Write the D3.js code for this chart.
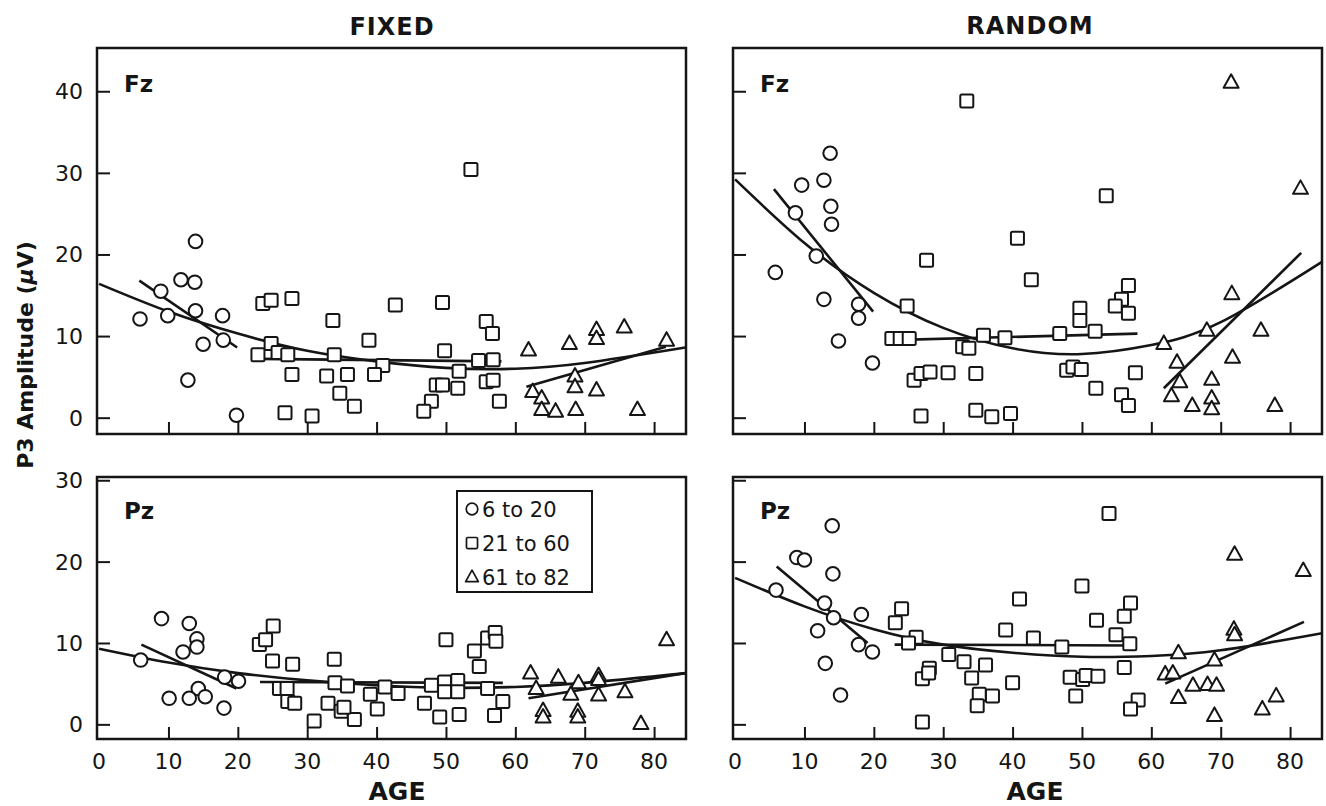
<!DOCTYPE html>
<html>
<head>
<meta charset="utf-8">
<script src="https://cdn.jsdelivr.net/npm/d3@7"></script>
<style>
  body { margin: 0; background: #fff; }
  text { font-family: "DejaVu Sans", sans-serif; fill: #151515; }
</style>
</head>
<body>
<svg id="chart" width="1326" height="806"></svg>
<script>
// ---- data: [age, P3 amplitude in µV] ----
const xTicks = [0, 10, 20, 30, 40, 50, 60, 70, 80];
const fzTicks = [0, 10, 20, 30, 40];
const pzTicks = [0, 10, 20, 30];
const groupLabels = ["6 to 20", "21 to 60", "61 to 82"];

// FIXED / Fz
const fixedFzYoung = [[13.9,21.6],[11.8,16.9],[13.8,16.6],[8.9,15.5],[5.9,12.1],[9.9,12.5],[13.9,13.1],[17.8,12.5],[15.0,9.0],[17.9,9.5],[12.8,4.6],[19.8,0.3]];
const fixedFzMid = [[23.6,14.0],[24.8,14.4],[27.8,14.6],[33.7,11.9],[38.9,9.5],[24.8,9.1],[22.9,7.7],[25.8,8.0],[27.2,7.7],[33.9,7.7],[40.9,6.4],[27.8,5.3],[32.8,5.1],[35.8,5.3],[39.7,5.3],[34.7,3.0],[36.8,1.4],[26.8,0.6],[30.7,0.2],[42.7,13.8],[53.6,30.4],[49.5,14.1],[55.8,11.8],[56.7,10.3],[49.8,8.2],[54.7,7.0],[56.8,7.1],[51.9,5.7],[55.8,4.4],[56.8,4.6],[48.6,4.0],[49.5,4.0],[51.7,3.6],[57.7,2.0],[47.9,2.0],[46.8,0.8]];
const fixedFzOld = [[61.9,8.3],[67.8,9.1],[71.7,10.8],[71.7,9.7],[75.7,11.1],[81.8,9.5],[62.5,3.2],[63.8,2.4],[63.8,1.0],[65.8,0.8],[68.6,5.1],[68.6,3.8],[71.7,3.4],[68.7,1.0],[77.6,1.0]];
const fixedFzCurve = [[0,16.4],[10,13.0],[20,10.3],[30,8.2],[40,6.9],[50,6.1],[60,6.0],[70,6.7],[84.5,8.6]];
const fixedFzYoungFit = [[5.8,16.8],[19.9,8.6]];
const fixedFzMidFit = [[23,7.2],[58,6.9]];
const fixedFzOldFit = [[61.6,3.8],[81.7,8.7]];

// RANDOM / Fz
const randomFzYoung = [[13.7,32.4],[9.6,28.5],[12.8,29.1],[13.8,25.9],[13.9,23.7],[8.7,25.1],[11.7,19.8],[5.8,17.8],[12.8,14.5],[17.8,13.9],[17.8,12.2],[14.9,9.4],[19.8,6.7]];
const randomFzMid = [[33.4,38.8],[27.6,19.3],[24.8,13.7],[22.6,9.7],[23.8,9.7],[25.1,9.7],[32.8,8.7],[33.7,8.5],[35.8,10.1],[38.9,9.8],[25.8,4.6],[26.8,5.4],[28.1,5.6],[30.7,5.5],[34.7,5.4],[26.8,0.2],[34.7,0.9],[37.0,0.1],[39.7,0.5],[40.7,22.0],[53.5,27.2],[42.7,16.9],[56.7,16.2],[55.7,14.5],[54.8,13.7],[56.7,12.8],[49.7,13.4],[49.7,11.9],[51.9,10.6],[46.8,10.3],[47.8,5.8],[48.7,6.2],[49.9,5.9],[57.7,5.5],[52.0,3.6],[55.7,2.8],[56.7,1.5]];
const randomFzOld = [[71.5,41.1],[81.5,28.1],[71.6,15.2],[75.8,10.7],[68.0,10.7],[61.8,9.1],[71.7,7.4],[63.7,6.8],[68.7,4.7],[64.1,4.4],[62.9,2.7],[65.9,1.5],[68.7,2.4],[68.7,1.1],[77.8,1.5]];
const randomFzCurve = [[0,29.2],[10,21.4],[20,15.3],[30,11.0],[40,8.5],[50,7.8],[60,8.9],[70,11.7],[84.6,19.1]];
const randomFzYoungFit = [[5.6,28.0],[19.9,13.0]];
const randomFzMidFit = [[22.5,9.5],[58,10.3]];
const randomFzOldFit = [[61.8,3.6],[81.6,20.2]];

// FIXED / Pz
const fixedPzYoung = [[9.0,13.0],[13.0,12.4],[14.1,10.5],[14.1,9.5],[12.1,8.9],[6.0,7.9],[18.1,5.8],[20.1,5.3],[14.3,4.4],[10.1,3.2],[13.0,3.2],[15.3,3.4],[18.0,2.0]];
const fixedPzMid = [[25.1,12.1],[23.1,9.8],[24.0,10.4],[25.0,7.8],[27.9,7.4],[33.9,8.0],[26.0,4.4],[27.1,4.4],[27.2,2.8],[28.2,2.6],[34.0,5.1],[35.8,4.7],[39.1,3.7],[41.2,4.6],[43.1,3.8],[33.0,2.6],[34.9,1.6],[36.8,0.6],[31.0,0.4],[40.1,1.9],[35.3,2.1],[50.0,10.4],[56.0,10.6],[57.1,11.3],[57.2,10.2],[54.1,9.0],[54.8,7.1],[47.9,4.8],[49.8,5.2],[51.7,5.4],[49.8,4.0],[51.7,4.0],[56.0,4.4],[58.2,2.8],[46.9,2.6],[49.1,0.9],[51.9,1.2],[57.0,1.1]];
const fixedPzOld = [[62.2,6.3],[66.2,5.8],[69.1,5.1],[72.0,6.0],[72.0,5.5],[63.0,4.4],[68.0,3.7],[72.0,3.6],[75.8,4.0],[64.0,1.7],[64.0,0.9],[69.0,1.6],[69.0,0.9],[78.1,0.1],[81.8,10.4]];
const fixedPzCurve = [[0,9.3],[10,7.6],[20,6.3],[30,5.4],[40,4.8],[50,4.5],[60,4.6],[70,5.1],[84.6,6.3]];
const fixedPzYoungFit = [[6.1,9.8],[19.8,4.4]];
const fixedPzMidFit = [[23.2,5.2],[58.2,5.1]];
const fixedPzOldFit = [[61.9,3.2],[84.5,6.3]];

// RANDOM / Pz
const randomPzYoung = [[14.0,24.4],[8.9,20.5],[10.0,20.2],[14.1,18.5],[5.9,16.5],[12.9,14.9],[14.2,13.1],[18.2,13.5],[11.9,11.5],[17.8,9.8],[19.8,8.9],[13.0,7.5],[15.2,3.6]];
const randomPzMid = [[41.0,15.4],[24.0,14.2],[23.1,12.5],[39.0,11.6],[26.1,10.7],[25.0,10.0],[30.8,8.6],[33.0,7.7],[36.1,7.3],[28.0,6.9],[27.0,5.6],[27.9,6.3],[34.1,5.7],[40.0,5.1],[35.2,3.7],[34.9,2.3],[37.1,3.5],[27.0,0.3],[53.9,25.9],[50.0,17.0],[57.0,14.9],[56.1,13.3],[52.1,12.8],[54.9,11.0],[56.9,9.9],[43.0,10.6],[47.1,9.5],[56.1,7.0],[48.3,5.8],[50.1,5.5],[50.6,6.0],[52.3,5.9],[49.1,3.5],[58.1,3.0],[57.0,1.9]];
const randomPzOld = [[72.0,20.9],[81.9,18.9],[71.9,11.7],[72.0,11.0],[63.9,8.8],[69.1,7.9],[62.0,6.2],[63.1,6.3],[66.0,4.8],[68.1,4.9],[69.4,4.8],[63.9,3.3],[69.1,1.1],[76.0,1.9],[78.0,3.5]];
const randomPzCurve = [[0,18.0],[10,14.5],[20,11.7],[30,9.8],[40,8.8],[50,8.3],[60,8.4],[70,9.1],[84.6,11.2]];
const randomPzYoungFit = [[6.0,19.4],[19.1,10.0]];
const randomPzMidFit = [[23.0,9.8],[56.9,9.7]];
const randomPzOldFit = [[62.0,5.0],[82.0,12.6]];

// ---- layout ----
const svg = d3.select("#chart");
const cols = [[97, 686], [733, 1322]];
const rows = [
  { top: 48, bottom: 434, domain: [-2, 45.3], ticks: fzTicks, label: "Fz" },
  { top: 477, bottom: 739, domain: [-1.8, 30.4], ticks: pzTicks, label: "Pz" }
];

const panels = [
  { col: 0, row: 0, groups: [fixedFzYoung, fixedFzMid, fixedFzOld], curve: fixedFzCurve, fits: [fixedFzYoungFit, fixedFzMidFit, fixedFzOldFit] },
  { col: 1, row: 0, groups: [randomFzYoung, randomFzMid, randomFzOld], curve: randomFzCurve, fits: [randomFzYoungFit, randomFzMidFit, randomFzOldFit] },
  { col: 0, row: 1, groups: [fixedPzYoung, fixedPzMid, fixedPzOld], curve: fixedPzCurve, fits: [fixedPzYoungFit, fixedPzMidFit, fixedPzOldFit], legend: true },
  { col: 1, row: 1, groups: [randomPzYoung, randomPzMid, randomPzOld], curve: randomPzCurve, fits: [randomPzYoungFit, randomPzMidFit, randomPzOldFit] }
];

// marker shapes: circle, square, triangle (open)
function drawMarker(sel, kind) {
  if (kind === 0) {
    sel.append("circle").attr("r", 6.8);
  } else if (kind === 1) {
    sel.append("rect").attr("x", -6.5).attr("y", -6.5).attr("width", 13).attr("height", 13).attr("rx", 1.5);
  } else {
    sel.append("path").attr("d", "M0,-8 L7.5,5.5 L-7.5,5.5 Z").attr("stroke-linejoin", "round");
  }
}

panels.forEach(p => {
  const r = rows[p.row];
  const x = d3.scaleLinear().domain([-0.3, 84.6]).range(cols[p.col]);
  const y = d3.scaleLinear().domain(r.domain).range([r.bottom, r.top]);
  const g = svg.append("g");

  // frame
  g.append("rect")
    .attr("x", cols[p.col][0]).attr("y", r.top)
    .attr("width", cols[p.col][1] - cols[p.col][0]).attr("height", r.bottom - r.top)
    .attr("fill", "none").attr("stroke", "#151515").attr("stroke-width", 2.5);

  // inward ticks
  g.append("g").attr("transform", `translate(0,${r.bottom})`)
    .call(d3.axisTop(x).tickValues(xTicks.filter(d => d > 0)).tickSize(12).tickFormat(""))
    .call(a => a.select(".domain").remove())
    .selectAll("line").attr("stroke", "#151515").attr("stroke-width", 2);
  g.append("g").attr("transform", `translate(${cols[p.col][0]},0)`)
    .call(d3.axisRight(y).tickValues(r.ticks).tickSize(13).tickFormat(""))
    .call(a => a.select(".domain").remove())
    .selectAll("line").attr("stroke", "#151515").attr("stroke-width", 2);

  // tick labels
  if (p.col === 0) {
    g.selectAll(".ylab").data(r.ticks).enter().append("text")
      .attr("x", 83).attr("y", d => y(d) + 8)
      .attr("text-anchor", "end").attr("font-size", 22)
      .text(d => d);
  }
  if (p.row === 1) {
    g.selectAll(".xlab").data(xTicks).enter().append("text")
      .attr("x", d => x(d)).attr("y", 769)
      .attr("text-anchor", "middle").attr("font-size", 22)
      .text(d => d);
  }

  // channel label
  g.append("text")
    .attr("x", cols[p.col][0] + 27).attr("y", r.top + (p.row === 0 ? 44 : 42))
    .attr("font-size", 23).attr("font-weight", "bold")
    .text(r.label);

  // fitted lines
  const line = d3.line().x(d => x(d[0])).y(d => y(d[1]));
  g.append("path").datum(p.curve)
    .attr("d", line.curve(d3.curveNatural))
    .attr("fill", "none").attr("stroke", "#151515").attr("stroke-width", 2.6);
  p.fits.forEach(f => {
    g.append("path").datum(f)
      .attr("d", d3.line().x(d => x(d[0])).y(d => y(d[1])))
      .attr("fill", "none").attr("stroke", "#151515").attr("stroke-width", 2.6);
  });

  // points
  p.groups.forEach((grp, k) => {
    g.selectAll(null).data(grp).enter().append("g")
      .attr("transform", d => `translate(${x(d[0])},${y(d[1])})`)
      .attr("fill", "#fff").attr("stroke", "#151515").attr("stroke-width", 2)
      .each(function() { drawMarker(d3.select(this), k); });
  });

  // legend
  if (p.legend) {
    const lg = g.append("g").attr("transform", "translate(457,491)");
    lg.append("rect").attr("width", 135).attr("height", 101)
      .attr("fill", "#fff").attr("stroke", "#151515").attr("stroke-width", 2);
    groupLabels.forEach((t, k) => {
      const row = lg.append("g").attr("transform", `translate(15,${18 + k * 34})`);
      const m = row.append("g").attr("fill", "none").attr("stroke", "#151515").attr("stroke-width", 2)
        .attr("transform", "scale(0.85)");
      drawMarker(m, k);
      row.append("text").attr("x", 10).attr("y", 8).attr("font-size", 21).text(t);
    });
  }
});

// titles and axis labels
svg.append("text").attr("x", 392).attr("y", 35).attr("text-anchor", "middle")
  .attr("font-size", 24).attr("font-weight", "bold").attr("letter-spacing", 1).text("FIXED");
svg.append("text").attr("x", 1030).attr("y", 34).attr("text-anchor", "middle")
  .attr("font-size", 24).attr("font-weight", "bold").attr("letter-spacing", 1).text("RANDOM");
svg.append("text").attr("x", 397).attr("y", 800).attr("text-anchor", "middle")
  .attr("font-size", 25).attr("font-weight", "bold").text("AGE");
svg.append("text").attr("x", 1035).attr("y", 800).attr("text-anchor", "middle")
  .attr("font-size", 25).attr("font-weight", "bold").text("AGE");

const yl = svg.append("text")
  .attr("transform", "translate(33,355) rotate(-90)")
  .attr("text-anchor", "middle").attr("font-size", 22).attr("font-weight", "bold");
yl.append("tspan").text("P3 Amplitude (");
yl.append("tspan").attr("font-style", "italic").text("μ");
yl.append("tspan").text("V)");
</script>
</body>
</html>
